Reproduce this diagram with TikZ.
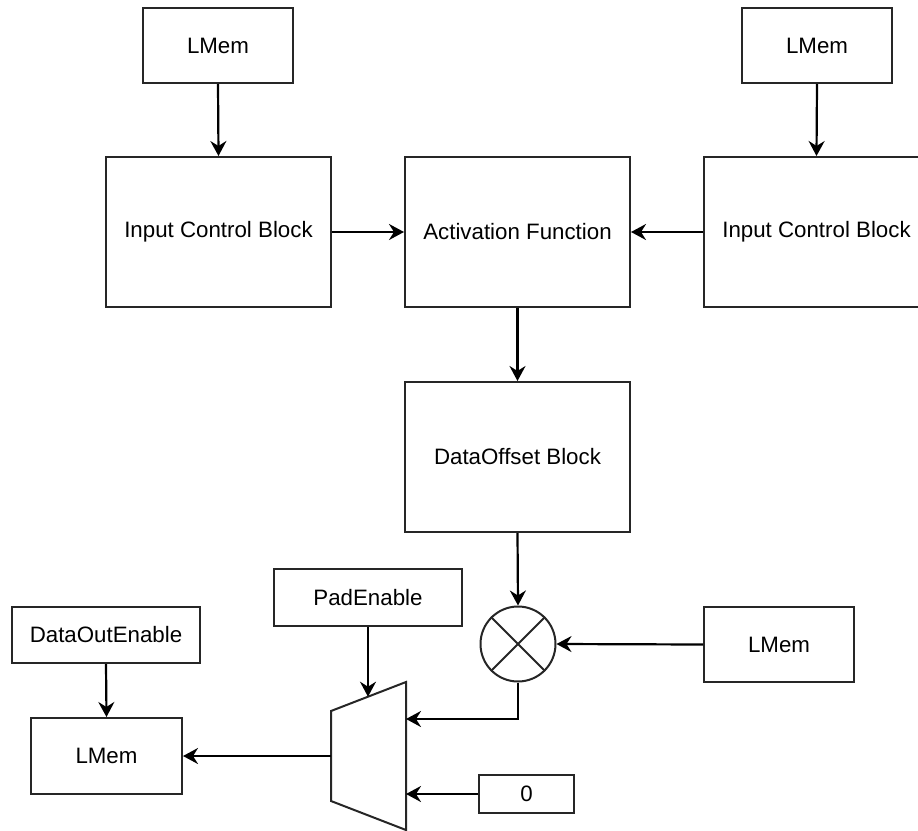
\documentclass[tikz,border=0pt]{standalone}
\usepackage{fontspec}
\setmainfont{Liberation Sans}
\usetikzlibrary{arrows.meta}
\begin{document}
\begin{tikzpicture}[x=1pt,y=-1pt,
  every node/.style={font=\fontsize{22.3}{26}\selectfont},
  blk/.style={draw=black!85, line width=2pt, rectangle, inner sep=0pt,
              minimum width=#1},
  blk/.default=225pt,
  flow/.style={draw=black, line width=2.2pt,
               -{Stealth[length=15pt,width=16pt,inset=5pt]}}
]
\clip (0,0) rectangle (918,830);

% memory and control blocks
\node[blk=150pt, minimum height=75pt] (lmA) at (218,45.5) {LMem};
\node[blk=150pt, minimum height=75pt] (lmB) at (817,45.5) {LMem};
\node[blk, minimum height=150pt] (icbA) at (218.5,232) {Input Control Block};
\node[blk, minimum height=150pt] (act)  at (517.5,232) {Activation Function};
\node[blk, minimum height=150pt] (icbB) at (816.5,232) {Input Control Block};
\node[blk, minimum height=150pt] (dob)  at (517.5,457) {DataOffset Block};

% multiplier
\node[draw=black!85, line width=2pt, circle, minimum size=75pt, inner sep=0pt] (mul) at (518,644) {};
\draw[line width=1.8pt, black!85] (mul.north west) -- (mul.south east);
\draw[line width=1.8pt, black!85] (mul.north east) -- (mul.south west);

\node[blk=150pt, minimum height=75pt] (lmC) at (779,644.5) {LMem};
\node[blk=188pt, minimum height=57pt] (pad) at (368,597.5) {PadEnable};
\node[blk=188pt, minimum height=56pt] (doe) at (106,635) {DataOutEnable};
\node[blk=151pt, minimum height=76pt] (lmD) at (106.5,756) {LMem};
\node[blk=95pt, minimum height=38pt] (zero) at (526.5,794) {0};

% multiplexer
\coordinate (muxTL) at (331,711);
\coordinate (muxTR) at (406,682);
\coordinate (muxBR) at (406,830);
\coordinate (muxBL) at (331,801);
\draw[black!85, line width=2pt] (muxTL) -- (muxTR) -- (muxBR) -- (muxBL) -- cycle;
\coordinate (muxSel) at (368,696.7);
\coordinate (muxInA) at (406,719);
\coordinate (muxInB) at (406,794);
\coordinate (muxOut) at (331,756);

% connectors
\draw[flow] (lmA.south) -- (icbA.north);
\draw[flow] (lmB.south) -- (icbB.north);
\draw[flow] (icbA.east) -- (act.west);
\draw[flow] (icbB.west) -- (act.east);
\draw[flow] (act.south) -- (dob.north);
\draw[flow] (dob.south) -- (mul.north);
\draw[flow] (lmC.west) -- (mul.east);
\draw[flow] (mul.south) |- (muxInA);
\draw[flow] (zero.west) -- (muxInB);
\draw[flow] (pad.south) -- (muxSel);
\draw[flow] (muxOut) -- (lmD.east);
\draw[flow] (doe.south) -- (lmD.north);
\end{tikzpicture}
\end{document}
